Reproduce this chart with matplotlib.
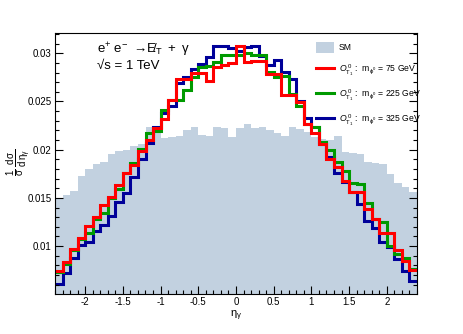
import numpy as np
import matplotlib
matplotlib.use('Agg')
import matplotlib.pyplot as plt
from matplotlib.ticker import MultipleLocator, FuncFormatter
from matplotlib.patches import Patch
from matplotlib.lines import Line2D

plt.rcParams['font.family'] = ['Liberation Sans', 'DejaVu Sans']
plt.rcParams['mathtext.fontset'] = 'custom'
plt.rcParams['mathtext.rm'] = 'Liberation Sans'
plt.rcParams['mathtext.it'] = 'Liberation Sans:italic'
plt.rcParams['mathtext.bf'] = 'Liberation Sans:bold'
plt.rcParams['mathtext.default'] = 'regular'

# binning in eta_gamma
eta_lo, eta_hi, n_bins = -2.4, 2.4, 48
eta_edges = np.linspace(eta_lo, eta_hi, n_bins + 1)

# normalised distributions, one value per bin
sm = [0.0149, 0.0153, 0.0157, 0.0173, 0.0180, 0.0185, 0.0187, 0.0196, 0.0199, 0.0200,
      0.0204, 0.0206, 0.0224, 0.0223, 0.0212, 0.0213, 0.0214, 0.0220, 0.0224, 0.0215,
      0.0214, 0.0224, 0.0222, 0.0213, 0.0222, 0.0227, 0.0222, 0.0223, 0.0220, 0.0217,
      0.0214, 0.0224, 0.0221, 0.0218, 0.0213, 0.0211, 0.0210, 0.0214, 0.0198, 0.0197,
      0.0195, 0.0187, 0.0186, 0.0185, 0.0175, 0.0165, 0.0161, 0.0156]

m75 = [0.0074, 0.0083, 0.0097, 0.0108, 0.0121, 0.0130, 0.0143, 0.0151, 0.0163, 0.0176,
       0.0184, 0.0199, 0.0210, 0.0222, 0.0232, 0.0252, 0.0273, 0.0273, 0.0280, 0.0280,
       0.0271, 0.0286, 0.0288, 0.0290, 0.0307, 0.0291, 0.0292, 0.0292, 0.0278, 0.0278,
       0.0257, 0.0257, 0.0249, 0.0227, 0.0217, 0.0206, 0.0190, 0.0182, 0.0168, 0.0156,
       0.0156, 0.0138, 0.0128, 0.0114, 0.0114, 0.0096, 0.0085, 0.0075]

m225 = [0.0073, 0.0081, 0.0096, 0.0107, 0.0114, 0.0128, 0.0134, 0.0150, 0.0159, 0.0176,
        0.0186, 0.0201, 0.0217, 0.0219, 0.0241, 0.0251, 0.0251, 0.0262, 0.0275, 0.0286,
        0.0287, 0.0291, 0.0298, 0.0298, 0.0298, 0.0300, 0.0298, 0.0298, 0.0281, 0.0275,
        0.0276, 0.0258, 0.0245, 0.0227, 0.0224, 0.0208, 0.0200, 0.0187, 0.0178, 0.0165,
        0.0164, 0.0145, 0.0128, 0.0125, 0.0100, 0.0092, 0.0088, 0.0076]

m325 = [0.0061, 0.0072, 0.0088, 0.0101, 0.0104, 0.0116, 0.0122, 0.0131, 0.0146, 0.0155,
        0.0172, 0.0190, 0.0207, 0.0224, 0.0238, 0.0245, 0.0269, 0.0275, 0.0284, 0.0289,
        0.0296, 0.0308, 0.0308, 0.0305, 0.0302, 0.0306, 0.0308, 0.0297, 0.0288, 0.0293,
        0.0281, 0.0273, 0.0250, 0.0233, 0.0224, 0.0206, 0.0192, 0.0176, 0.0166, 0.0156,
        0.0144, 0.0126, 0.0119, 0.0104, 0.0099, 0.0087, 0.0074, 0.0064]

masses = ['75', '225', '325']
colors = ['#ff0000', '#009a00', '#000099']

fig = plt.figure(figsize=(4.64, 3.34), dpi=100)
ax = fig.add_axes([55 / 464, 1 - 294 / 334, 362 / 464, 261 / 334])

ax.stairs(sm, eta_edges, fill=True, color='#c2d1e0', lw=0)
for vals, c in reversed(list(zip([m75, m225, m325], colors))):
    ax.stairs(vals, eta_edges, color=c, lw=2.2, baseline=None)

ax.set_xlim(eta_lo, eta_hi)
ax.set_ylim(0.00503, 0.0321)

ax.xaxis.set_major_locator(MultipleLocator(0.5))
ax.xaxis.set_minor_locator(MultipleLocator(0.1))
ax.yaxis.set_major_locator(MultipleLocator(0.005))
ax.yaxis.set_minor_locator(MultipleLocator(0.001))
ax.yaxis.set_major_formatter(FuncFormatter(lambda v, p: '%g' % round(v, 4)))
ax.xaxis.set_major_formatter(FuncFormatter(lambda v, p: '%g' % v))
ax.tick_params(which='both', direction='in', top=False, right=True,
               labelsize=7, width=0.8, pad=2.5)
ax.tick_params(which='major', length=5.8)
ax.tick_params(which='minor', length=2.9)
for s in ax.spines.values():
    s.set_linewidth(0.8)

ax.set_xlabel(r'$\eta_{\gamma}$', fontsize=8, labelpad=0.5)
fig.text(19 / 464, 1 - 162 / 334, r'$\frac{1}{\sigma}\,\frac{d\sigma}{d\,\eta_{\gamma}}$',
         rotation=90, fontsize=10, ha='center', va='center')

ax.text(0.116, 0.935, r'$e^{+}\ e^{-}\ \rightarrow\ /\!\!\!\!\!E_{T}\ +\ \gamma$',
        transform=ax.transAxes, fontsize=9.5, ha='left', va='center')
ax.text(0.116, 0.873, '\u221as = 1 TeV', transform=ax.transAxes,
        fontsize=9.5, ha='left', va='center')

handles = [Patch(facecolor='#c2d1e0', edgecolor='none')]
labels = ['SM']
for m, c in zip(masses, colors):
    handles.append(Line2D([], [], color=c, lw=2.2))
    labels.append(r'$\mathit{O}^{\,0}_{T_{1}}$ :  m$_{\phi^{0}}$ = %s GeV' % m)
ax.legend(handles, labels, loc='upper left', bbox_to_anchor=(0.705, 0.99),
          frameon=False, fontsize=6.2, handlelength=2.1, handleheight=1.6,
          handletextpad=0.5, labelspacing=1.15, borderaxespad=0.3)

fig.savefig('out.png', dpi=100)
